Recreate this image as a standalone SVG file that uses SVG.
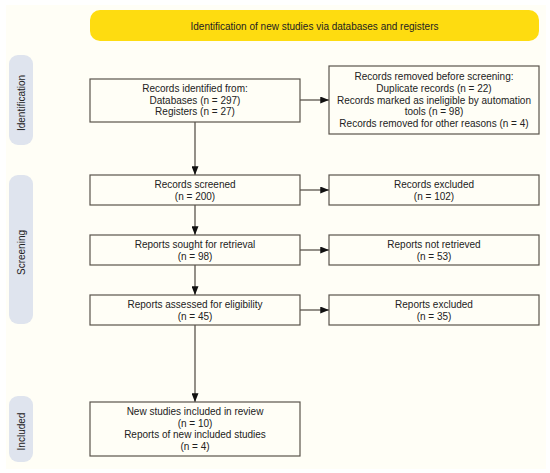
<svg xmlns="http://www.w3.org/2000/svg" width="550" height="473" viewBox="0 0 550 473">
<defs>
<style>
.bx{fill:#fffef6;stroke:#5a544c;stroke-width:1.2}
.t{font-family:"Liberation Sans",Arial,sans-serif;font-size:10px;fill:#222;text-anchor:middle}
.pill{fill:#dfe4ee}
.ln{stroke:#5a544c;stroke-width:1.3;fill:none}
</style>
<marker id="ah" viewBox="0 0 10 8" refX="10" refY="4" markerWidth="9" markerHeight="7" markerUnits="userSpaceOnUse" orient="auto">
<path d="M0,0 L10,4 L0,8 Z" fill="#111"/>
</marker>
</defs>
<rect x="0" y="0" width="550" height="473" fill="#ffffff"/>
<rect x="6" y="5" width="540" height="464" fill="#fffef6"/>

<g id="header">
<rect x="90" y="10" width="449" height="31" rx="10" fill="#fedc10"/>
<text class="t" x="314.5" y="29.5">Identification of new studies via databases and registers</text>
</g>

<g id="lane-identification">
<rect class="pill" x="9" y="55" width="24" height="90" rx="9"/>
<text class="t" transform="translate(21,103) rotate(-90)" x="0" y="3.5">Identification</text>
</g>
<g id="lane-screening">
<rect class="pill" x="9" y="175" width="24" height="149" rx="9"/>
<text class="t" transform="translate(21,252.5) rotate(-90)" x="0" y="3.5">Screening</text>
</g>
<g id="lane-included">
<rect class="pill" x="9" y="396" width="24" height="66" rx="9"/>
<text class="t" transform="translate(21,431.5) rotate(-90)" x="0" y="3.5">Included</text>
</g>

<g id="connectors">
<line class="ln" x1="195" y1="122" x2="195" y2="175" marker-end="url(#ah)"/>
<line class="ln" x1="195" y1="205" x2="195" y2="235" marker-end="url(#ah)"/>
<line class="ln" x1="195" y1="265" x2="195" y2="295" marker-end="url(#ah)"/>
<line class="ln" x1="195" y1="325" x2="195" y2="402" marker-end="url(#ah)"/>
<line class="ln" x1="300" y1="100" x2="329" y2="100" marker-end="url(#ah)"/>
<line class="ln" x1="300" y1="190" x2="329" y2="190" marker-end="url(#ah)"/>
<line class="ln" x1="300" y1="250" x2="329" y2="250" marker-end="url(#ah)"/>
<line class="ln" x1="300" y1="310" x2="329" y2="310" marker-end="url(#ah)"/>
</g>

<g id="identified">
<rect class="bx" x="90" y="79" width="210" height="43"/>
<text class="t" x="195" y="91.8">Records identified from:</text>
<text class="t" x="195" y="103.5">Databases (n = 297)</text>
<text class="t" x="195" y="115.2">Registers (n = 27)</text>
</g>

<g id="removed">
<rect class="bx" x="329" y="66" width="210" height="68"/>
<text class="t" x="434" y="80.2">Records removed before screening:</text>
<text class="t" x="434" y="91.9">Duplicate records (n = 22)</text>
<text class="t" x="434" y="103.6">Records marked as ineligible by automation</text>
<text class="t" x="434" y="115.3">tools (n = 98)</text>
<text class="t" x="434" y="127">Records removed for other reasons (n = 4)</text>
</g>

<g id="screened">
<rect class="bx" x="90" y="175" width="210" height="30"/>
<text class="t" x="195" y="187.8">Records screened</text>
<text class="t" x="195" y="199.5">(n = 200)</text>
</g>

<g id="excluded">
<rect class="bx" x="329" y="175" width="210" height="30"/>
<text class="t" x="434" y="187.8">Records excluded</text>
<text class="t" x="434" y="199.5">(n = 102)</text>
</g>

<g id="sought">
<rect class="bx" x="90" y="235" width="210" height="30"/>
<text class="t" x="195" y="247.8">Reports sought for retrieval</text>
<text class="t" x="195" y="259.5">(n = 98)</text>
</g>

<g id="notretrieved">
<rect class="bx" x="329" y="235" width="210" height="30"/>
<text class="t" x="434" y="247.8">Reports not retrieved</text>
<text class="t" x="434" y="259.5">(n = 53)</text>
</g>

<g id="assessed">
<rect class="bx" x="90" y="295" width="210" height="30"/>
<text class="t" x="195" y="307.8">Reports assessed for eligibility</text>
<text class="t" x="195" y="319.5">(n = 45)</text>
</g>

<g id="reportsexcluded">
<rect class="bx" x="329" y="295" width="210" height="30"/>
<text class="t" x="434" y="307.8">Reports excluded</text>
<text class="t" x="434" y="319.5">(n = 35)</text>
</g>

<g id="included">
<rect class="bx" x="90" y="402" width="210" height="54"/>
<text class="t" x="195" y="415">New studies included in review</text>
<text class="t" x="195" y="426.7">(n = 10)</text>
<text class="t" x="195" y="438.4">Reports of new included studies</text>
<text class="t" x="195" y="450.1">(n = 4)</text>
</g>
</svg>
